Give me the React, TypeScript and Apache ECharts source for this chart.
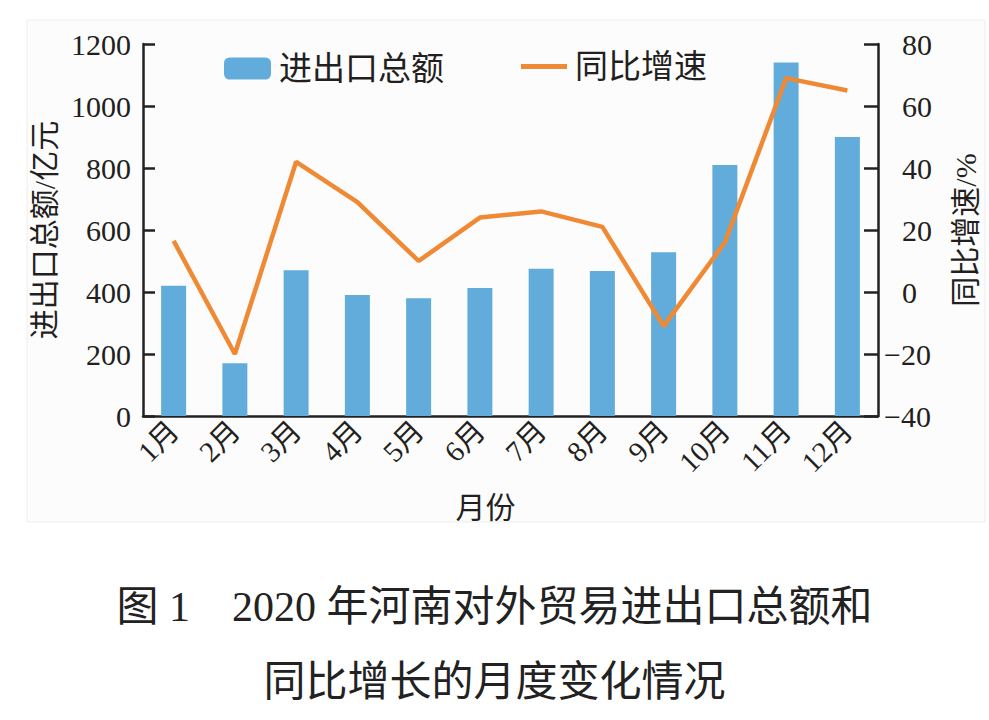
import React, { useEffect, useRef } from "react";
import * as echarts from "echarts";

const months = ["1月", "2月", "3月", "4月", "5月", "6月", "7月", "8月", "9月", "10月", "11月", "12月"];
const totalValues = [420, 170, 470, 390, 380, 413, 475, 468, 528, 810, 1140, 900];
const growthValues = [16.5, -20, 42, 29, 10, 24, 26, 21, -11, 16, 69, 65];
const seriesNames = ["进出口总额", "同比增速"];
const axisNames = { x: "月份", left: "进出口总额/亿元", right: "同比增速/%" };
const captionLines = ["图 1　2020 年河南对外贸易进出口总额和", "同比增长的月度变化情况"];

const SERIF = "'Liberation Serif', 'Times New Roman', 'Noto Sans CJK SC', serif";
const TEXT = "#231f20";

export default function App() {
  const ref = useRef<HTMLDivElement>(null);
  useEffect(() => {
    if (!ref.current) return;
    const chart = echarts.init(ref.current, null, { renderer: "svg" });
    chart.setOption({
      animation: false,
      backgroundColor: "#ffffff",
      title: [
        {
          text: captionLines[0],
          left: "center",
          top: 581,
          textStyle: { fontFamily: SERIF, fontSize: 42, fontWeight: "normal", color: "#222" },
        },
        {
          text: captionLines[1],
          left: "center",
          top: 656,
          textStyle: { fontFamily: SERIF, fontSize: 42, fontWeight: "normal", color: "#222" },
        },
      ],
      graphic: [
        {
          type: "rect",
          z: -10,
          silent: true,
          shape: { x: 27, y: 20, width: 958, height: 502 },
          style: { fill: "#fcfcfc", stroke: "#eeeeee", lineWidth: 1 },
        },
      ],
      legend: [
        {
          data: [seriesNames[0]],
          left: 219,
          top: 47,
          itemWidth: 47,
          itemHeight: 22,
          textStyle: { fontSize: 33, color: TEXT, fontFamily: SERIF, padding: [0, 0, 0, 3] },
        },
        {
          data: [{ name: seriesNames[1], icon: "rect" }],
          left: 516,
          top: 45,
          itemWidth: 46,
          itemHeight: 5,
          textStyle: { fontSize: 33, color: TEXT, fontFamily: SERIF, padding: [0, 0, 0, 3] },
        },
      ],
      grid: { left: 143, right: 111, top: 44, bottom: 304, containLabel: false },
      xAxis: {
        type: "category",
        data: months,
        boundaryGap: true,
        name: axisNames.x,
        nameLocation: "middle",
        nameGap: 76,
        nameTextStyle: { fontSize: 30, color: TEXT, fontFamily: SERIF, padding: [0, 50, 0, 0] },
        axisLine: { lineStyle: { color: "#222", width: 2.5 } },
        axisTick: { show: false },
        axisLabel: {
          rotate: 45,
          fontSize: 29,
          color: TEXT,
          fontFamily: SERIF,
          margin: 10,
          interval: 0,
        },
        splitLine: { show: false },
      },
      yAxis: [
        {
          type: "value",
          min: 0,
          max: 1200,
          interval: 200,
          name: axisNames.left,
          nameLocation: "middle",
          nameRotate: 90,
          nameGap: 84,
          nameTextStyle: { fontSize: 30, color: TEXT, fontFamily: SERIF },
          axisLine: { show: true, lineStyle: { color: "#222", width: 2.5 } },
          axisTick: { show: true, inside: true, length: 12, lineStyle: { color: "#222", width: 2.5 } },
          axisLabel: {
            fontSize: 30,
            color: TEXT,
            fontFamily: SERIF,
            margin: 12,
            formatter: (v: number) => String(v),
          },
          splitLine: { show: false },
        },
        {
          type: "value",
          min: -40,
          max: 80,
          interval: 20,
          position: "right",
          name: axisNames.right,
          nameLocation: "middle",
          nameRotate: 90,
          nameGap: 72,
          nameTextStyle: { fontSize: 30, color: TEXT, fontFamily: SERIF },
          axisLine: { show: true, lineStyle: { color: "#222", width: 2.5 } },
          axisTick: { show: true, inside: true, length: 14, lineStyle: { color: "#222", width: 2.5 } },
          axisLabel: {
            fontSize: 30,
            color: TEXT,
            fontFamily: SERIF,
            margin: 6,
            formatter: (v: number) => (v < 0 ? `{n|−${Math.abs(v)}}` : `{p|${v}}`),
            rich: {
              n: { fontSize: 30, color: TEXT, fontFamily: SERIF },
              p: { fontSize: 30, color: TEXT, fontFamily: SERIF, padding: [0, 0, 0, 18] },
            },
          },
          splitLine: { show: false },
        },
      ],
      series: [
        {
          name: seriesNames[0],
          type: "bar",
          yAxisIndex: 0,
          data: totalValues,
          barWidth: 25,
          itemStyle: { color: "#62acdb" },
        },
        {
          name: seriesNames[1],
          type: "line",
          yAxisIndex: 1,
          data: growthValues,
          symbol: "none",
          lineStyle: { color: "#f08934", width: 4.5 },
          itemStyle: { color: "#f08934" },
        },
      ],
    });
    return () => chart.dispose();
  }, []);
  return (
    <div
      ref={ref}
      style={{ position: "absolute", left: 0, top: 0, width: 989, height: 720 }}
    />
  );
}
